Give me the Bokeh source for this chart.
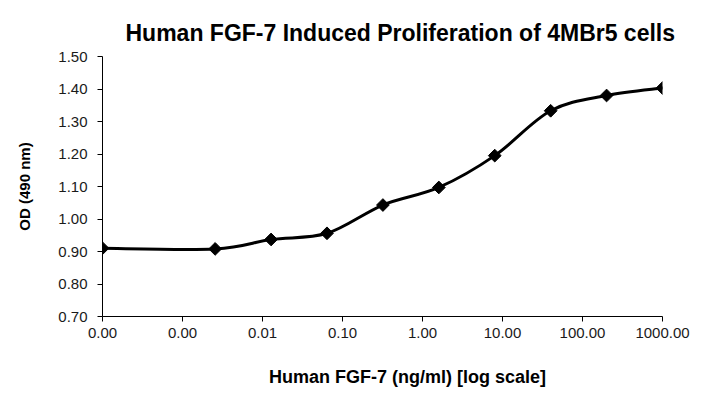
import math
from bokeh.plotting import figure
from bokeh.models import Range1d, FixedTicker, Title, NumeralTickFormatter
from bokeh.embed import file_html
from bokeh.resources import INLINE

# ---- data ----
concentration = [0.0001, 0.00256, 0.0128, 0.064, 0.32, 1.6, 8, 40, 200, 1000]
od = [0.910, 0.908, 0.937, 0.956, 1.043, 1.097, 1.195, 1.333, 1.380, 1.403]

x_ticks = [0.0001, 0.001, 0.01, 0.1, 1, 10, 100, 1000]
x_tick_labels = ["0.00", "0.00", "0.01", "0.10", "1.00", "10.00", "100.00", "1000.00"]
y_ticks = [0.7, 0.8, 0.9, 1.0, 1.1, 1.2, 1.3, 1.4, 1.5]
y_tick_labels = ["0.70", "0.80", "0.90", "1.00", "1.10", "1.20", "1.30", "1.40", "1.50"]

title_text = "Human FGF-7 Induced Proliferation of 4MBr5 cells"
x_label_text = "Human FGF-7 (ng/ml) [log scale]"
y_label_text = "OD (490 nm)"

FONT = "Liberation Sans"

p = figure(width=705, height=395, x_axis_type="log",
           x_range=Range1d(0.0001, 1000), y_range=Range1d(0.7, 1.5),
           output_backend="svg", toolbar_location=None,
           min_border_left=102, min_border_right=43,
           min_border_top=56, min_border_bottom=79)
p.outline_line_color = None
p.xgrid.grid_line_color = None
p.ygrid.grid_line_color = None
p.background_fill_color = "white"
p.border_fill_color = "white"

# axes
xa = p.xaxis[0]
xa.ticker = FixedTicker(ticks=x_ticks, minor_ticks=[])
xa.formatter = NumeralTickFormatter(format="0.00")
xa.major_label_overrides = dict(zip(x_ticks, x_tick_labels))
xa.major_tick_out = 5
xa.major_tick_in = 0
xa.minor_tick_out = 0
xa.minor_tick_in = 0
xa.major_label_standoff = 6
xa.major_label_text_font = FONT
xa.major_label_text_font_size = "15px"
xa.major_label_text_color = "#1a1a1a"
xa.axis_line_color = "black"
xa.major_tick_line_color = "black"
# the reference's axis title sits a little right of the plot centre
xa.axis_label = "\u00a0" * 10 + x_label_text
xa.axis_label_text_font = FONT
xa.axis_label_text_font_size = "18px"
xa.axis_label_text_font_style = "bold"
xa.axis_label_text_color = "black"
xa.axis_label_standoff = 26

ya = p.yaxis[0]
ya.ticker = FixedTicker(ticks=y_ticks, minor_ticks=[])
ya.formatter = NumeralTickFormatter(format="0.00")
ya.major_label_overrides = dict(zip(y_ticks, y_tick_labels))
ya.major_tick_out = 5
ya.major_tick_in = 0
ya.minor_tick_out = 0
ya.minor_tick_in = 0
ya.major_label_standoff = 10
ya.major_label_text_font = FONT
ya.major_label_text_font_size = "15px"
ya.major_label_text_color = "#1a1a1a"
ya.axis_line_color = "black"
ya.major_tick_line_color = "black"
ya.axis_label = y_label_text
ya.axis_label_text_font = FONT
ya.axis_label_text_font_size = "15px"
ya.axis_label_text_font_style = "bold"
ya.axis_label_text_color = "black"
ya.axis_label_standoff = 22

# smoothed line (Catmull-Rom style bezier through the data points, in log-x space)
lx = [math.log10(c) for c in concentration]
n = len(lx)
x0s, y0s, x1s, y1s, cx0s, cy0s, cx1s, cy1s = [], [], [], [], [], [], [], []
for i in range(n - 1):
    a = i - 1 if i > 0 else i
    d = i + 2 if i + 2 < n else i + 1
    c1x = lx[i] + (lx[i + 1] - lx[a]) / 6.0
    c1y = od[i] + (od[i + 1] - od[a]) / 6.0
    c2x = lx[i + 1] - (lx[d] - lx[i]) / 6.0
    c2y = od[i + 1] - (od[d] - od[i]) / 6.0
    x0s.append(concentration[i]); y0s.append(od[i])
    x1s.append(concentration[i + 1]); y1s.append(od[i + 1])
    cx0s.append(10 ** c1x); cy0s.append(c1y)
    cx1s.append(10 ** c2x); cy1s.append(c2y)

p.bezier(x0=x0s, y0=y0s, x1=x1s, y1=y1s, cx0=cx0s, cy0=cy0s, cx1=cx1s, cy1=cy1s,
         line_color="black", line_width=3, line_cap="round")

p.scatter(concentration, od, marker="square", angle=math.pi / 4, size=9,
          fill_color="black", line_color="black")

# chart title, offset from the frame's left edge like the reference
p.add_layout(Title(text=title_text, align="left", offset=23, standoff=22,
                   text_font=FONT, text_font_size="23px", text_font_style="bold",
                   text_color="black"), "above")

open("out.html", "w").write(file_html(p, INLINE))
